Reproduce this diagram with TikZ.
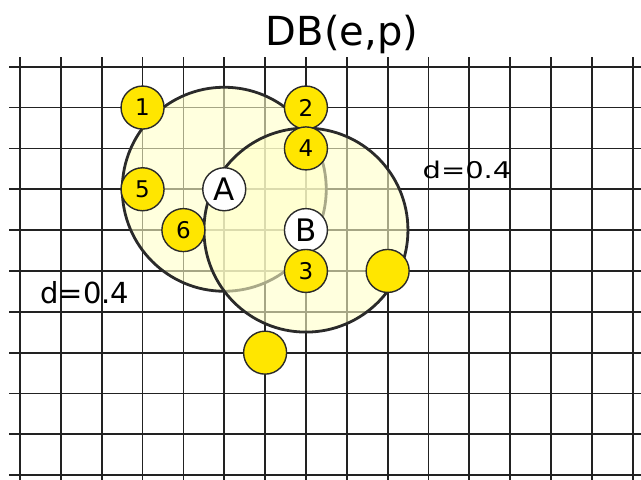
\documentclass[tikz,border=0pt]{standalone}
\usepackage{fontspec}
\setmainfont{DejaVu Sans}
\definecolor{gridc}{HTML}{222222}
\definecolor{edgec}{HTML}{2A2A2A}
\definecolor{zonefill}{RGB}{255,255,200}
\definecolor{pty}{RGB}{255,230,0}
\begin{document}
\begin{tikzpicture}[x=40.85pt,y=-40.85pt,
  gridline/.style={draw=gridc,line width=1.8pt},
  zone/.style={draw=edgec,line width=2.8pt,fill=zonefill,fill opacity=0.6},
  pt/.style={circle,draw=edgec,line width=1.4pt,fill=pty,minimum size=43pt,inner sep=0pt,font=\fontsize{23}{23}\selectfont},
  core/.style={pt,fill=white,font=\fontsize{31}{31}\selectfont},
  lbl/.style={anchor=base,inner sep=0pt}]
\useasboundingbox (-0.4896,-1.6328) rectangle (15.2020,10.1175);
% grid
\foreach \i in {0,...,15} \draw[gridline] (\i,-0.2375) -- (\i,10.2);
\foreach \j in {0,...,10} \draw[gridline] (-0.269,\j) -- (15.3,\j);
% neighbourhoods
\draw[zone] (5,3) circle[radius=102pt];
\draw[zone] (7,4) circle[radius=102pt];
% points
\node[pt] (p1) at (3,1) {1};
\node[pt] (p2) at (7,1) {2};
\node[pt] (p4) at (7,2) {4};
\node[pt] (p5) at (3,3) {5};
\node[core] (A) at (5,3) {A};
\node[pt] (p6) at (4,4) {6};
\node[core] (B) at (7,4) {B};
\node[pt] (p3) at (7,5) {3};
\node[pt] (q1) at (9,5) {};
\node[pt] (q2) at (6,7) {};
% labels
\node[lbl,font=\fontsize{40}{40}\selectfont] (title) at (7.882,-0.531) {DB(e,p)};
\node[lbl,font=\fontsize{29}{29}\selectfont] (dl) at (1.584,5.792) {d=0.4};
\node[lbl,font=\fontsize{23}{23}\selectfont,xscale=1.26] (dr) at (10.942,2.732) {d=0.4};
\end{tikzpicture}
\end{document}
